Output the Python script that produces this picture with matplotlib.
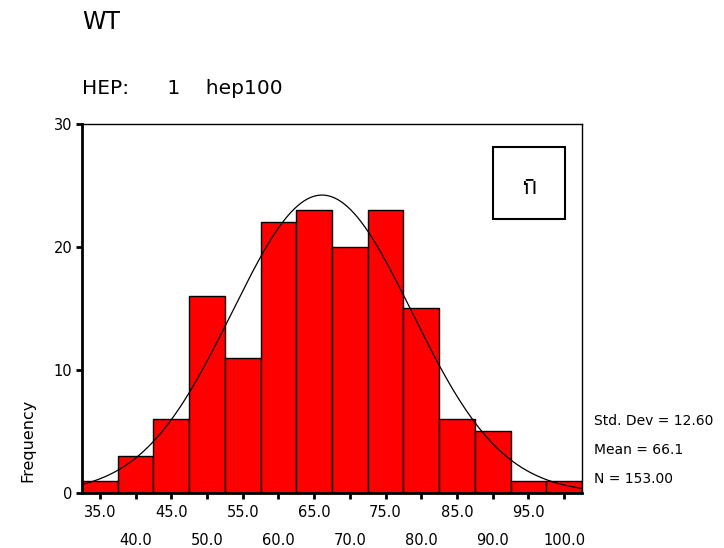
import numpy as np
import matplotlib
matplotlib.use("Agg")
import matplotlib.pyplot as plt
from matplotlib import font_manager
from matplotlib.ft2font import FT2Font
from matplotlib.patches import Rectangle

# histogram of hep100 (bin centers, counts)
bin_centers = [35.0, 40.0, 45.0, 50.0, 55.0, 60.0, 65.0, 70.0, 75.0, 80.0, 85.0, 90.0, 95.0, 100.0]
counts = [1, 3, 6, 16, 11, 22, 23, 20, 23, 15, 6, 5, 1, 1]
bin_width = 5.0
std_dev = 12.60
mean = 66.1
n_total = 153.00


def find_thai_family():
    # look for any installed font that has the Thai glyph
    for path in font_manager.findSystemFonts():
        try:
            if 0x0E01 in FT2Font(path).get_charmap():
                return font_manager.FontProperties(fname=path).get_name()
        except Exception:
            pass
    return None


thai = find_thai_family()
families = ['DejaVu Sans']
if thai:
    families.append(thai)
plt.rcParams['font.family'] = families

fig = plt.figure(figsize=(7.24, 5.48), dpi=100)
ax = fig.add_axes([0.1133, 0.1004, 0.6906, 0.6734])

ax.bar(bin_centers, counts, width=bin_width, color='#ff0000', edgecolor='black', linewidth=1.0, zorder=2)

# normal curve scaled to counts
xs = np.linspace(32.5, 102.5, 300)
ys = n_total * bin_width / (std_dev * np.sqrt(2 * np.pi)) * np.exp(-0.5 * ((xs - mean) / std_dev) ** 2)
ax.plot(xs, ys, color='black', linewidth=0.9, zorder=3)

ax.set_xlim(32.5, 102.5)
ax.set_ylim(0, 30)

# two rows of x labels
ax.set_xticks(bin_centers[0::2])
ax.set_xticklabels(['%.1f' % v for v in bin_centers[0::2]])
ax.set_xticks(bin_centers[1::2], minor=True)
ax.set_xticklabels(['%.1f' % v for v in bin_centers[1::2]], minor=True)
ax.tick_params(axis='x', which='major', length=4, width=2, pad=5, labelsize=10.5)
ax.tick_params(axis='x', which='minor', length=4, width=2, pad=25, labelsize=10.5)

ax.set_yticks([0, 10, 20, 30])
ax.tick_params(axis='y', length=4, width=2, pad=3, labelsize=10.5)

ax.spines['left'].set_linewidth(2)
ax.spines['bottom'].set_linewidth(2)
ax.spines['top'].set_linewidth(1)
ax.spines['right'].set_linewidth(1)

fig.text(82 / 724, 1 - 22 / 548, 'WT', fontsize=17, va='center', ha='left')
fig.text(82 / 724, 1 - 88 / 548, 'HEP:      1    hep100', fontsize=14.5, va='center', ha='left')
fig.text(28 / 724, 1 - 440 / 548, 'Frequency', fontsize=11.5, rotation=90, va='center', ha='center')

fig.text(594 / 724, 1 - 421 / 548, 'Std. Dev = %.2f' % std_dev, fontsize=10, va='center', ha='left')
fig.text(594 / 724, 1 - 450 / 548, 'Mean = %.1f' % mean, fontsize=10, va='center', ha='left')
fig.text(594 / 724, 1 - 479 / 548, 'N = %.2f' % n_total, fontsize=10, va='center', ha='left')

# label box
fig.patches.append(Rectangle((493 / 724, 1 - 219 / 548), 72 / 724, 72 / 548, transform=fig.transFigure,
                             fill=False, edgecolor='black', linewidth=1.5))
fig.text(529 / 724, 1 - 186 / 548, 'ก', fontsize=22, va='center', ha='center')

fig.savefig('out.png', dpi=100)
